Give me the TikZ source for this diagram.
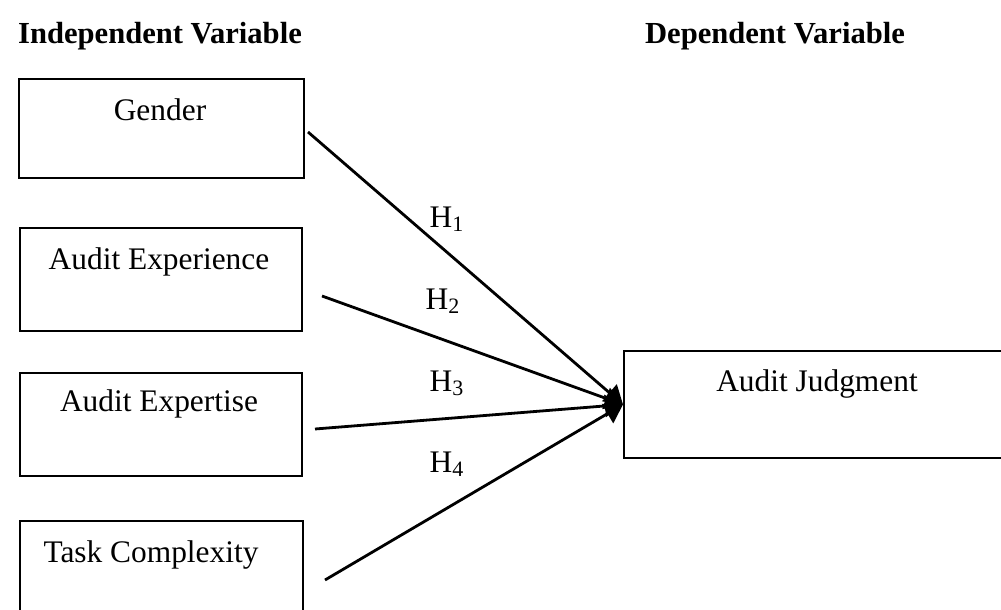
\documentclass[tikz,border=0pt]{standalone}
\usepackage{fontspec}
\setmainfont{Liberation Serif}
\usetikzlibrary{arrows.meta}
\begin{document}
\begin{tikzpicture}[x=0.5pt,y=-0.5pt,
  box/.style={draw, line width=1pt, rectangle, inner sep=0pt, anchor=north west},
  lbl/.style={font=\fontsize{15.7}{18}\selectfont, anchor=base, inner sep=0pt},
  head/.style={font=\fontsize{15.3}{18}\selectfont\bfseries, anchor=base, inner sep=0pt},
  arr/.style={line width=1.4pt, -{Triangle[length=9pt,width=11pt]}}]
\useasboundingbox (0,0) rectangle (1001,610);
\clip (0,0) rectangle (1001,610);
% headers
\node[head] (hi) at (160,44) {Independent Variable};
\node[head] (hd) at (775,44) {Dependent Variable};
% boxes
\node[box, minimum width=142.5pt, minimum height=49.5pt] (g) at (18,78) {};
\node[box, minimum width=141pt, minimum height=51.5pt] (ae) at (19,227) {};
\node[box, minimum width=141pt, minimum height=51.5pt] (ax) at (19,372) {};
\node[box, minimum width=141.5pt, minimum height=55pt] (tc) at (19,520) {};
\node[box, minimum width=195pt, minimum height=53.5pt] (aj) at (623,350) {};
% box texts
\node[lbl] (tg) at (160,120) {Gender};
\node[lbl] (tae) at (159,269) {Audit Experience};
\node[lbl] (tax) at (159,411) {Audit Expertise};
\node[lbl] (ttc) at (151,562) {Task Complexity};
\node[lbl] (taj) at (817,391) {Audit Judgment};
% connectors
\coordinate (s1) at (308,132);
\coordinate (s2) at (322,296);
\coordinate (s3) at (315,429);
\coordinate (s4) at (325,580);
\draw[arr] (s1) -- (aj.west);
\draw[arr] (s2) -- (aj.west);
\draw[arr] (s3) -- (aj.west);
\draw[arr] (s4) -- (aj.west);
% hypothesis labels
\node[lbl] (h1) at (447,227) {H\textsubscript{1}};
\node[lbl] (h2) at (443,309) {H\textsubscript{2}};
\node[lbl] (h3) at (447,391) {H\textsubscript{3}};
\node[lbl] (h4) at (447,472) {H\textsubscript{4}};
\end{tikzpicture}
\end{document}
